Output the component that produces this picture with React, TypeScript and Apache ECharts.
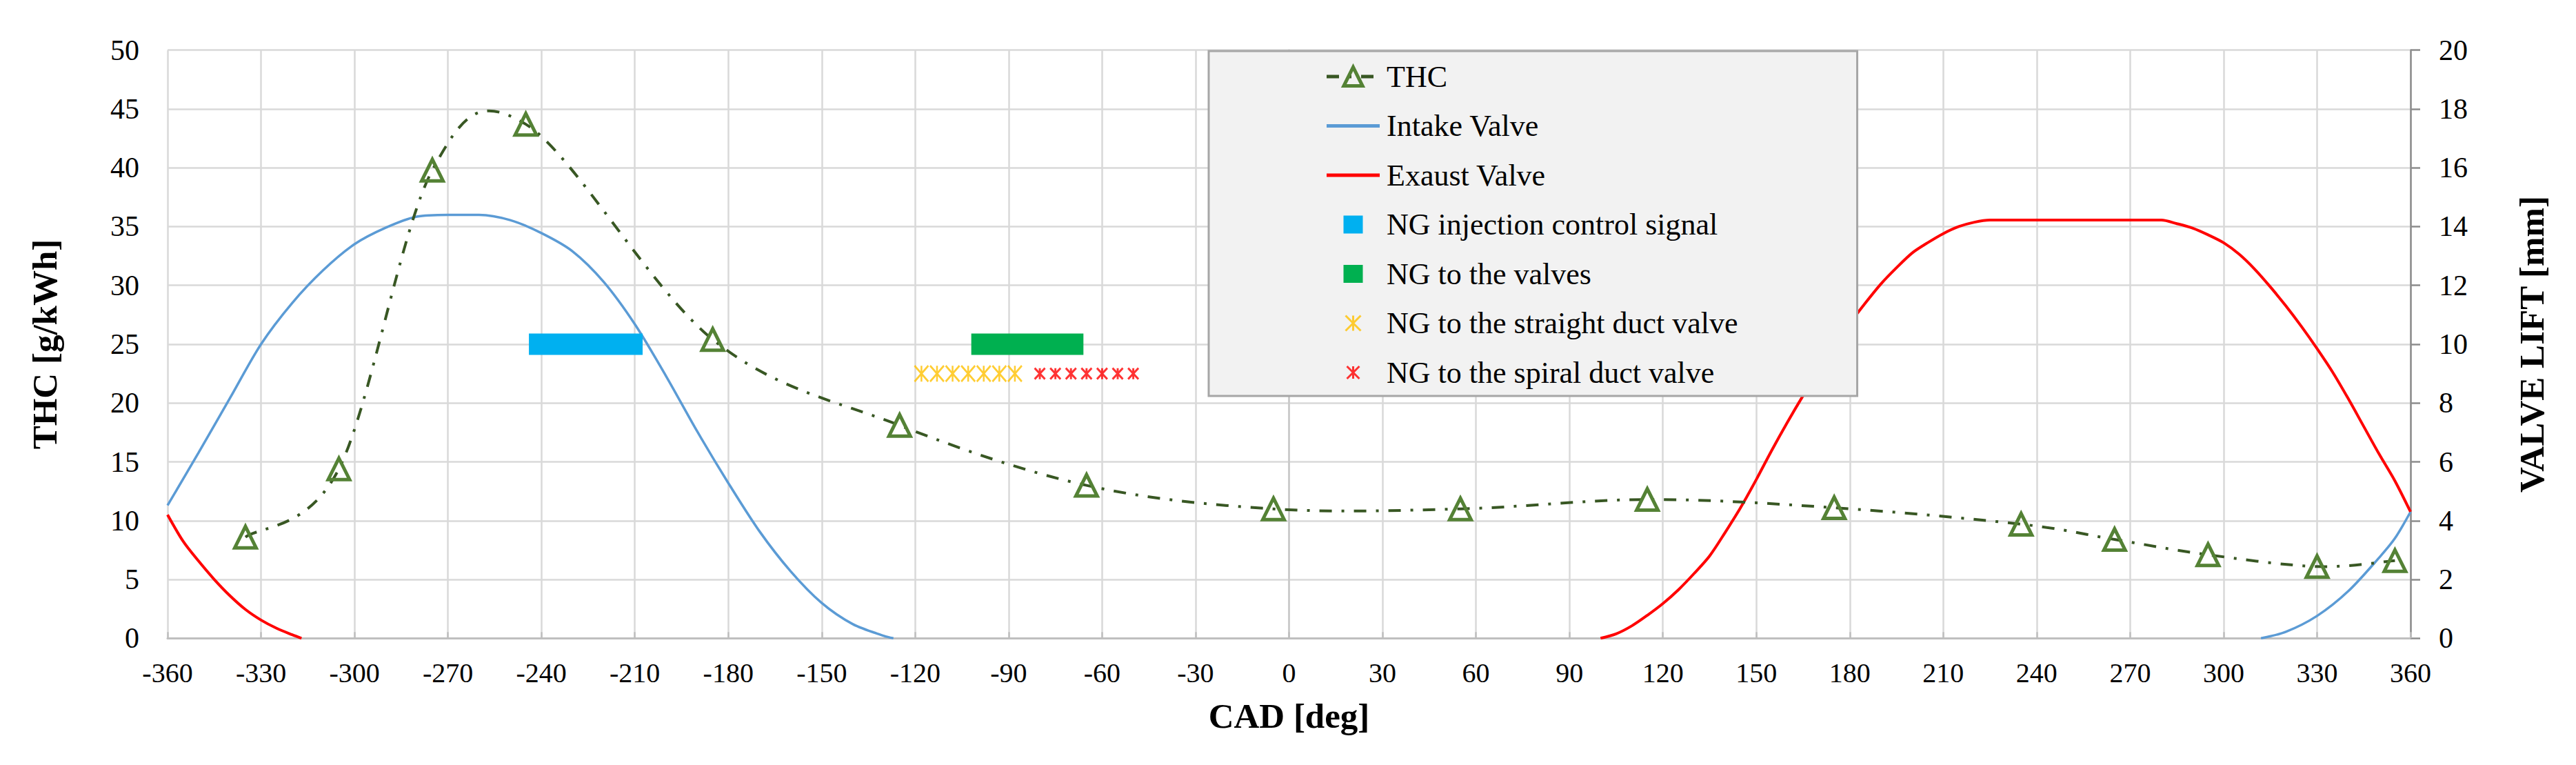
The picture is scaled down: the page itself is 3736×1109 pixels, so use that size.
import { useEffect, useRef } from "react";
import * as echarts from "echarts";

const FONT = "Liberation Serif";

const BLUE = "#5b9bd5";
const RED = "#ff0000";
const CYAN = "#00b0f0";
const GREEN = "#00b050";
const AMBER = "#ffc000";
const THC_LINE = "#385723";
const THC_MARK = "#548235";
const THC_DASH = [18, 14, 4, 14];

// crank angle axis [min, max, step]
const cadAxis = [-360, 360, 30];
const thcAxis = [0, 50, 5];
const liftAxis = [0, 20, 2];

// THC [g/kWh] vs CAD
const thc = [
  [-335, 8.6], [-305, 14.4], [-275, 39.8], [-245, 43.7], [-185, 25.4], [-125, 18.1],
  [-65, 13.0], [-5, 11.0], [55, 11.0], [115, 11.8], [175, 11.1], [235, 9.7],
  [265, 8.4], [295, 7.1], [330, 6.1], [355, 6.6],
];

// valve lift [mm], null splits the two lobes
const intakeLift = [
  [-360, 4.52], [-350, 6.32], [-340, 8.16], [-330, 10.0], [-320, 11.4], [-310, 12.52],
  [-300, 13.4], [-290, 13.96], [-280, 14.34], [-270, 14.4], [-260, 14.4], [-250, 14.22],
  [-240, 13.78], [-230, 13.16], [-220, 12.12], [-210, 10.68], [-200, 8.92], [-190, 7.04],
  [-180, 5.28], [-170, 3.64], [-160, 2.28], [-150, 1.2], [-140, 0.48], [-130, 0.08],
  [-127, 0],
  [0, null],
  [312, 0], [320, 0.22], [330, 0.76], [340, 1.6], [350, 2.75], [355, 3.4], [360, 4.3],
];

const exhaustLift = [
  [-360, 4.2], [-355, 3.3], [-350, 2.62], [-345, 2.0], [-340, 1.45], [-335, 0.98],
  [-330, 0.62], [-325, 0.34], [-320, 0.12], [-317, 0],
  [0, null],
  [100, 0], [105, 0.15], [110, 0.42], [115, 0.78], [120, 1.18], [125, 1.65], [130, 2.2],
  [135, 2.8], [140, 3.6], [145, 4.45], [150, 5.4], [155, 6.4], [160, 7.35], [165, 8.25],
  [170, 9.1], [175, 9.9], [180, 10.7], [185, 11.4], [190, 12.05], [195, 12.6],
  [200, 13.1], [205, 13.45], [210, 13.76], [215, 14.0], [220, 14.15], [225, 14.22],
  [250, 14.22], [280, 14.22], [285, 14.1], [290, 13.95], [295, 13.72], [300, 13.45],
  [305, 13.06], [310, 12.55], [315, 11.95], [320, 11.3], [325, 10.6], [330, 9.85],
  [335, 9.05], [340, 8.15], [345, 7.2], [350, 6.25], [355, 5.35], [360, 4.3],
];

// NG timing marks (THC axis level)
const ngInjection = [[-244, 25], [-207.5, 25]];
const ngValves = [[-102, 25], [-66, 25]];
const straightDuct = [
  [-118, 22.5], [-113, 22.5], [-108, 22.5], [-103, 22.5], [-98, 22.5], [-93, 22.5], [-88, 22.5],
];
const spiralDuct = [
  [-80, 22.5], [-75, 22.5], [-70, 22.5], [-65, 22.5], [-60, 22.5], [-55, 22.5], [-50, 22.5],
];

const ASTERISK = "path://M0,0L20,23M20,0L0,23M10,0L10,23";

// legend icons drawn in a 77x34 box (corner moves fix the box)
const LINE_ICON = "path://M0,0M77,34M0,14.5L77,14.5L77,19.5L0,19.5Z";
const SQUARE_ICON = "path://M0,0M77,34M24.5,4L52.5,4L52.5,30L24.5,30Z";
const STAR_BIG_ICON = "path://M0,0M77,34M27.5,6L49.5,28M49.5,6L27.5,28M38.5,6L38.5,28";
const STAR_SMALL_ICON = "path://M0,0M77,34M29.5,8L47.5,26M47.5,8L29.5,26M38.5,8L38.5,26";

const tickText = { fontFamily: FONT, color: "#000" };
const titleText = { fontFamily: FONT, fontSize: 51, fontWeight: "bold" as const, color: "#000" };

// Excel-style smoothed line: Catmull-Rom through the mapped points
function smoothPath(pts: number[][]) {
  let d = `M${pts[0][0]},${pts[0][1]}`;
  for (let i = 0; i < pts.length - 1; i++) {
    const p0 = pts[Math.max(i - 1, 0)];
    const p1 = pts[i];
    const p2 = pts[i + 1];
    const p3 = pts[Math.min(i + 2, pts.length - 1)];
    const c1x = p1[0] + (p2[0] - p0[0]) / 6;
    const c1y = p1[1] + (p2[1] - p0[1]) / 6;
    const c2x = p2[0] - (p3[0] - p1[0]) / 6;
    const c2y = p2[1] - (p3[1] - p1[1]) / 6;
    d += ` C${c1x},${c1y} ${c2x},${c2y} ${p2[0]},${p2[1]}`;
  }
  return d;
}

function ThcChart() {
  const ref = useRef<HTMLDivElement>(null);

  useEffect(() => {
    if (!ref.current) return;
    const chart = echarts.init(ref.current, null, { renderer: "svg" });
    chart.setOption({
      animation: false,
      backgroundColor: "#fff",
      grid: { left: 243, right: 240, top: 72.7, bottom: 183.7 },
      legend: {
        orient: "vertical",
        left: 1753,
        top: 74,
        padding: [15, 173, 12, 168.5],
        itemWidth: 77,
        itemHeight: 34,
        itemGap: 27.5,
        selectedMode: false,
        backgroundColor: "#f2f2f2",
        borderColor: "#a6a6a6",
        borderWidth: 3,
        textStyle: { fontFamily: FONT, fontSize: 44, lineHeight: 44, color: "#000", padding: [0, 0, 0, 5] },
        data: [
          { name: "THC", itemStyle: { borderWidth: 5 }, lineStyle: { width: 5 } },
          { name: "Intake Valve", icon: LINE_ICON, itemStyle: { color: BLUE, borderWidth: 0 } },
          { name: "Exaust Valve", icon: LINE_ICON, itemStyle: { color: RED, borderWidth: 0 } },
          { name: "NG injection control signal", icon: SQUARE_ICON, itemStyle: { color: CYAN, borderWidth: 0 } },
          { name: "NG to the valves", icon: SQUARE_ICON, itemStyle: { color: GREEN, borderWidth: 0 } },
          { name: "NG to the straight duct valve", icon: STAR_BIG_ICON, itemStyle: { color: "none", borderColor: AMBER, borderWidth: 3 } },
          { name: "NG to the spiral duct valve", icon: STAR_SMALL_ICON, itemStyle: { color: "none", borderColor: RED, borderWidth: 3 } },
        ],
      },
      xAxis: {
        type: "value",
        min: cadAxis[0],
        max: cadAxis[1],
        interval: cadAxis[2],
        name: "CAD [deg]",
        nameLocation: "middle",
        nameGap: 87,
        nameTextStyle: titleText,
        axisLine: { lineStyle: { color: "#bfbfbf", width: 3 } },
        axisTick: { show: true, inside: true, length: 9, lineStyle: { color: "#bfbfbf", width: 2.5 } },
        axisLabel: { ...tickText, fontSize: 40, margin: 30 },
        splitLine: { show: true, lineStyle: { color: "#d9d9d9", width: 2.5 } },
      },
      yAxis: [
        {
          type: "value",
          min: thcAxis[0],
          max: thcAxis[1],
          interval: thcAxis[2],
          name: "THC [g/kWh]",
          nameLocation: "middle",
          nameRotate: 90,
          nameGap: 153,
          nameTextStyle: titleText,
          axisLine: { show: true, lineStyle: { color: "#c8c8c8", width: 2.5 } },
          axisTick: { show: false },
          axisLabel: { ...tickText, fontSize: 42, margin: 41 },
          splitLine: { show: true, lineStyle: { color: "#d9d9d9", width: 2.5 } },
        },
        {
          type: "value",
          position: "right",
          min: liftAxis[0],
          max: liftAxis[1],
          interval: liftAxis[2],
          name: "VALVE LIFT [mm]",
          nameLocation: "middle",
          nameRotate: 90,
          nameGap: 150,
          nameTextStyle: titleText,
          axisLine: { show: true, lineStyle: { color: "#8c8c8c", width: 2.5 } },
          axisTick: { show: true, length: 14, lineStyle: { color: "#8c8c8c", width: 2.5 } },
          axisLabel: { ...tickText, fontSize: 42, margin: 41 },
          splitLine: { show: false },
        },
      ],
      series: [
        {
          // markers (and legend entry) for THC; the curve is drawn by the custom series below
          name: "THC",
          type: "line",
          data: thc,
          symbol: "triangle",
          symbolSize: 31,
          showAllSymbol: true,
          lineStyle: { color: THC_LINE, width: 0, type: THC_DASH, cap: "butt" },
          itemStyle: { color: "rgba(255,255,255,0)", borderColor: THC_MARK, borderWidth: 5 },
          z: 6,
        },
        {
          name: "THC curve",
          type: "custom",
          data: thc,
          encode: { x: 0, y: 1 },
          silent: true,
          z: 5,
          renderItem: (params: any, api: any) => {
            if (params.dataIndex !== 0) return null;
            const pts = thc.map((p) => api.coord(p));
            return {
              type: "path",
              shape: { pathData: smoothPath(pts) },
              style: { fill: "none", stroke: THC_LINE, lineWidth: 4, lineDash: THC_DASH },
            };
          },
        },
        {
          name: "Intake Valve",
          type: "line",
          yAxisIndex: 1,
          data: intakeLift,
          smooth: 0.3,
          symbol: "none",
          color: BLUE,
          lineStyle: { color: BLUE, width: 3.5 },
        },
        {
          name: "Exaust Valve",
          type: "line",
          yAxisIndex: 1,
          data: exhaustLift,
          smooth: 0.3,
          symbol: "none",
          color: RED,
          lineStyle: { color: RED, width: 4 },
        },
        {
          name: "NG injection control signal",
          type: "line",
          data: ngInjection,
          symbol: "none",
          color: CYAN,
          lineStyle: { color: CYAN, width: 31, cap: "butt" },
        },
        {
          name: "NG to the valves",
          type: "line",
          data: ngValves,
          symbol: "none",
          color: GREEN,
          lineStyle: { color: GREEN, width: 31, cap: "butt" },
        },
        {
          name: "NG to the straight duct valve",
          type: "scatter",
          data: straightDuct,
          symbol: ASTERISK,
          symbolSize: [20, 23],
          itemStyle: { color: "none", borderColor: AMBER, borderWidth: 2.7 },
        },
        {
          name: "NG to the spiral duct valve",
          type: "scatter",
          data: spiralDuct,
          symbol: ASTERISK,
          symbolSize: [15, 16],
          itemStyle: { color: "none", borderColor: RED, borderWidth: 3 },
        },
      ],
    });
    return () => chart.dispose();
  }, []);

  return <div ref={ref} style={{ position: "absolute", left: 0, top: 0, width: 3736, height: 1109 }} />;
}

export default function App() {
  return <ThcChart />;
}
